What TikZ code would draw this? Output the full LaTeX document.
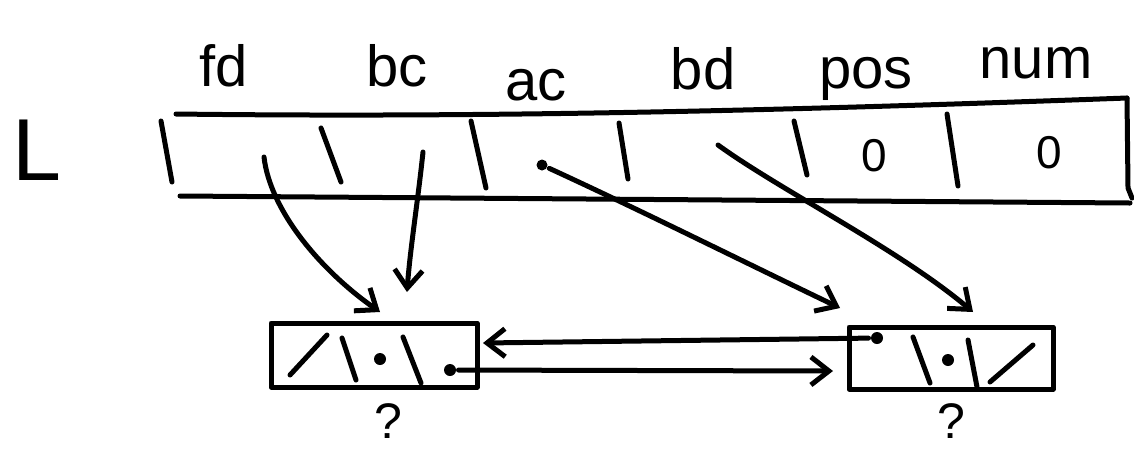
\documentclass[tikz,border=0pt]{standalone}
\usepackage{fontspec}
\setmainfont{Liberation Sans}
\usetikzlibrary{arrows.meta}

\begin{document}
\begin{tikzpicture}[x=1pt,y=-1pt,
  line width=5pt, line cap=round, line join=round,
  lbl/.style={font=\fontsize{58}{58}\selectfont, inner sep=0pt, anchor=base},
  big/.style={font=\fontsize{88}{88}\selectfont, inner sep=0pt, anchor=base},
  val/.style={font=\fontsize{46}{46}\selectfont, inner sep=0pt},
  qmark/.style={font=\fontsize{50}{50}\selectfont, inner sep=0pt, anchor=base},
  ptr/.style={-{Straight Barb[length=18pt,width=28pt]}},
  origin/.style={circle, fill, inner sep=0pt, minimum size=12pt},
  cellbox/.style={draw, rectangle, line width=5pt, inner sep=0pt}
]
\useasboundingbox (0,0) rectangle (1134,451);

% name of the list
\node[big] (L) at (37,180) {L};

% field names above the header record
\node[lbl] (tfd)  at (224,86)  {fd};
\node[lbl] (tbc)  at (397,86)  {bc};
\node[lbl] (tac)  at (536,100) {ac};
\node[lbl] (tbd)  at (703,89)  {bd};
\node[lbl] (tpos) at (866,88)  {pos};
\node[lbl] (tnum) at (1036,78) {num};

% header record outline
\draw (176,114) .. controls (500,118) and (800,110) .. (1127,98);
\draw (180,196) -- (1130,203);
\draw (161,121) -- (172,182);
\draw (1127,98) -- (1128,188) -- (1132,198);

% field separators
\draw (321,128) -- (341,182);
\draw (471,121) -- (486,188);
\draw (619,123) -- (628,179);
\draw (794,121) -- (807,175);
\draw (947,114) -- (958,186);

% integer fields
\node[val] (vpos) at (874,156) {0};
\node[val] (vnum) at (1049,153) {0};

% pointer fields of the header
\coordinate (pfd) at (264,157);
\coordinate (pbc) at (423,152);
\node[origin, minimum size=11pt] (pac) at (542,165) {};
\coordinate (pbd) at (718,145);

% the two list nodes
\node[cellbox, minimum width=206pt, minimum height=64pt] (n1) at (374,355) {};
\node[cellbox, minimum width=204pt, minimum height=62pt] (n2) at (951,358) {};

% first node: null prev, data, next
\draw (290,375) -- (327,335);
\draw (342,338) -- (356,380);
\node[origin] (d1) at (380,359) {};
\draw (403,337) -- (421,383);
\node[origin] (nx1) at (450,370) {};

% second node: prev, data, null next
\node[origin] (pv2) at (877,338) {};
\draw (913,337) -- (930,383);
\node[origin] (d2) at (948,360) {};
\draw (968,340) -- (977,387);
\draw (990,382) -- (1033,345);

% arrow targets
\coordinate (hfd) at (380,312);
\coordinate (hbc) at (407,292);
\coordinate (hac) at (840,308);
\coordinate (hbd) at (973,312);
\coordinate (h1) at (483,343);
\coordinate (h2) at (833,371);

% pointers from the header
\draw[ptr] (pfd) .. controls (270,210) and (320,270) .. (hfd);
\draw[ptr] (pbc) .. controls (418,200) and (410,250) .. (hbc);
\draw[ptr] (pac) .. controls (640,210) and (740,260) .. (hac);
\draw[ptr] (pbd) .. controls (780,190) and (900,250) .. (hbd);

% links between the nodes
\draw[ptr] (pv2) -- (h1);
\draw[ptr] (nx1) -- (h2);

% unknown data values
\node[qmark] (q1) at (388,438) {?};
\node[qmark] (q2) at (951,438) {?};
\end{tikzpicture}
\end{document}
